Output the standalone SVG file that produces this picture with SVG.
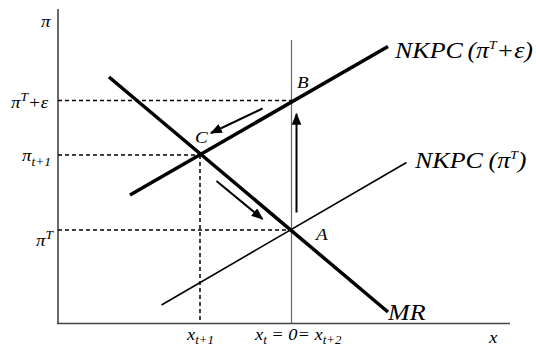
<svg xmlns="http://www.w3.org/2000/svg" width="536" height="348" viewBox="0 0 536 348">
<defs>
<style>
.t{font-family:'Liberation Serif','Times New Roman','DejaVu Serif',serif;font-style:italic;fill:#000}
.big{font-size:23px}
.sm{font-size:17px}
.sub{font-size:12px}
.axis{stroke:#444;stroke-width:1.6;fill:none}
.thin{stroke:#666;stroke-width:1.2;fill:none}
.dash{stroke:#000;stroke-width:1.5;stroke-dasharray:4,3;fill:none}
.thick{stroke:#000;stroke-width:3.5;fill:none}
.curve{stroke:#000;stroke-width:1.6;fill:none}
.arr{stroke:#000;stroke-width:2;fill:none;marker-end:url(#ah)}
</style>
<marker id="ah" viewBox="0 0 10 8" refX="9" refY="4" markerWidth="6" markerHeight="4.8" markerUnits="strokeWidth" orient="auto">
<path d="M0,0 L10,4 L0,8 z" fill="#000"/>
</marker>
</defs>
<g id="axes">
<line class="axis" x1="58" y1="9" x2="58" y2="324"/>
<line class="axis" x1="57" y1="323.5" x2="510" y2="323.5"/>
<text class="t sm" transform="translate(41,27) scale(1.12,1)" font-family="Liberation Serif, serif">π</text>
<text class="t sm" transform="translate(489,343) scale(1.12,1)" font-family="Liberation Serif, serif">x</text>
</g>
<g id="guides">
<line class="thin" x1="291.5" y1="40" x2="291.5" y2="323"/>
<line class="dash" x1="58" y1="100.5" x2="291" y2="100.5"/>
<line class="dash" x1="58" y1="155" x2="200" y2="155"/>
<line class="dash" x1="58" y1="230" x2="291" y2="230"/>
<line class="dash" x1="200" y1="155" x2="200" y2="323"/>
</g>
<g id="MR">
<line class="thick" x1="109" y1="77" x2="388" y2="312"/>
<text class="t big" transform="translate(388,320) scale(1.13,1)" font-family="Liberation Serif, serif">MR</text>
</g>
<g id="NKPC-high">
<line class="thick" x1="130" y1="195" x2="388" y2="46.5"/>
<text class="t big" transform="translate(395,58) scale(1.13,1)" font-family="Liberation Serif, serif">NKPC<tspan dx="4">(π</tspan><tspan class="sub" dy="-9">T</tspan><tspan dy="9">+ε)</tspan></text>
</g>
<g id="NKPC-low">
<line class="curve" x1="161.5" y1="305" x2="406.5" y2="162.5"/>
<text class="t big" transform="translate(415,168) scale(1.13,1)" font-family="Liberation Serif, serif">NKPC<tspan dx="5">(π</tspan><tspan class="sub" dy="-9">T</tspan><tspan dy="9">)</tspan></text>
</g>
<g id="points">
<text class="t sm" transform="translate(297,88) scale(1.12,1)" font-family="Liberation Serif, serif">B</text>
<text class="t sm" transform="translate(195,143) scale(1.12,1)" font-family="Liberation Serif, serif">C</text>
<text class="t sm" transform="translate(316,240) scale(1.12,1)" font-family="Liberation Serif, serif">A</text>
</g>
<g id="ylabels">
<text class="t sm" transform="translate(11,108) scale(1.12,1)" font-family="Liberation Serif, serif">π<tspan class="sub" dy="-7">T</tspan><tspan dy="7" font-size="17">+ε</tspan></text>
<text class="t sm" transform="translate(22,161) scale(1.12,1)" font-family="Liberation Serif, serif">π<tspan class="sub" dy="5">t+1</tspan></text>
<text class="t sm" transform="translate(36,246) scale(1.12,1)" font-family="Liberation Serif, serif">π<tspan class="sub" dy="-7">T</tspan></text>
</g>
<g id="xlabels">
<text class="t sm" transform="translate(187,340) scale(1.08,1)" font-family="Liberation Serif, serif">x<tspan class="sub" dy="4">t+1</tspan></text>
<text class="t sm" transform="translate(255,340) scale(1.08,1)" font-family="Liberation Serif, serif">x<tspan class="sub" dy="4">t</tspan><tspan dy="-4"> = 0= x</tspan><tspan class="sub" dy="4">t+2</tspan></text>
</g>
<g id="connectors">
<line class="arr" x1="262.5" y1="108.5" x2="211" y2="133"/>
<line class="arr" x1="216.5" y1="181" x2="262.5" y2="219"/>
<line class="arr" x1="296.5" y1="212.5" x2="296.5" y2="114"/>
</g>
</svg>
